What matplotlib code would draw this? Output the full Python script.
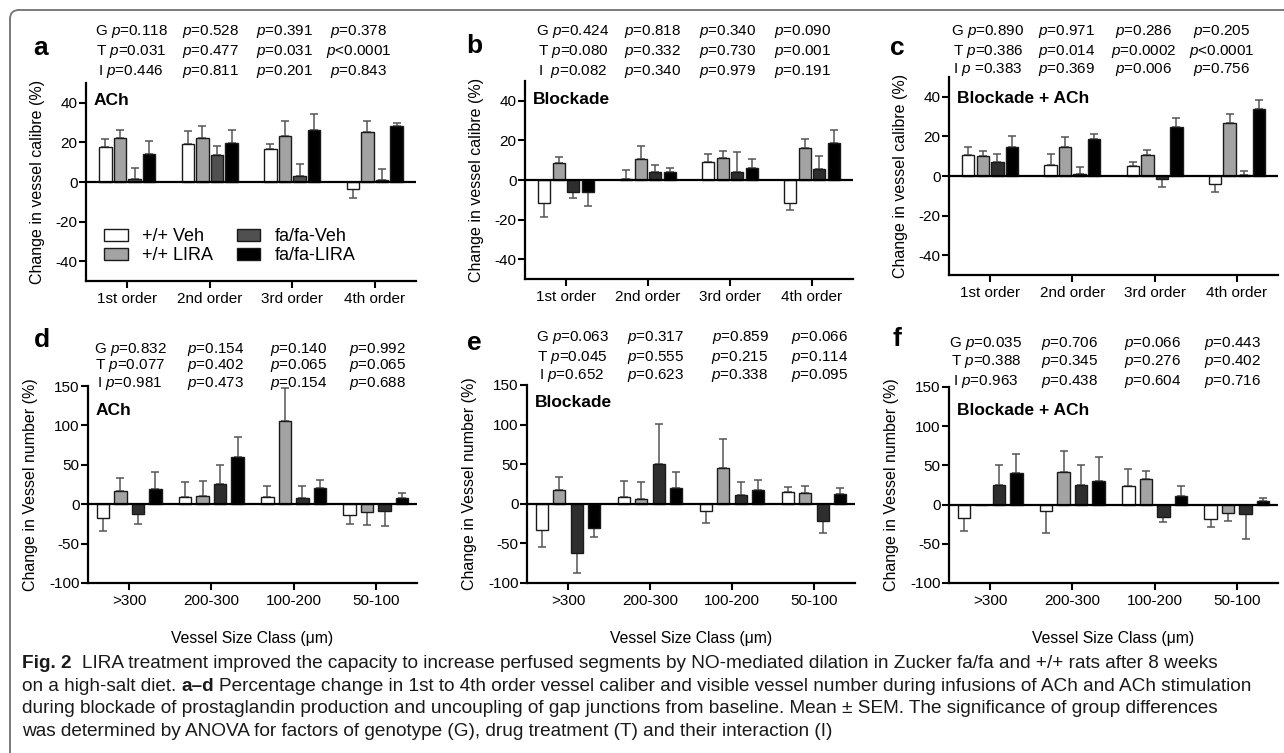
import matplotlib
matplotlib.use('Agg')
import matplotlib.pyplot as plt
import numpy as np
from matplotlib import font_manager
from matplotlib.patches import FancyBboxPatch, Patch
from matplotlib.transforms import IdentityTransform

W, H = 1284, 753
plt.rcParams['font.family'] = ['Liberation Sans', 'DejaVu Sans']
plt.rcParams['mathtext.fontset'] = 'custom'
plt.rcParams['mathtext.it'] = 'Liberation Sans:italic'
plt.rcParams['mathtext.rm'] = 'Liberation Sans'
plt.rcParams['axes.unicode_minus'] = False

# ---------------- data ----------------
series_labels = ['+/+ Veh', '+/+ LIRA', 'fa/fa-Veh', 'fa/fa-LIRA']
order_labels = ['1st order', '2nd order', '3rd order', '4th order']
size_labels = ['>300', '200-300', '100-200', '50-100']

# rows: +/+ Veh, +/+ LIRA, fa/fa-Veh, fa/fa-LIRA ; columns: groups
a_mean = [[17.6, 19.2, 16.8, -3.7], [22.2, 22.2, 23.4, 25.3],
          [1.4, 13.6, 3.1, 1.0], [14.1, 19.7, 26.4, 28.1]]
a_sem = [[4.3, 6.4, 2.4, 4.6], [3.9, 6.1, 7.4, 5.5],
         [5.9, 4.4, 6.1, 5.6], [6.4, 6.7, 7.8, 1.7]]

b_mean = [[-11.8, 0.5, 9.3, -11.5], [8.8, 10.5, 11.3, 16.2],
          [-6.2, 4.1, 4.2, 5.4], [-6.2, 4.2, 5.9, 18.6]]
b_sem = [[7.1, 4.6, 3.7, 3.7], [3.0, 6.9, 3.4, 4.7],
         [3.1, 3.7, 10.1, 6.8], [7.0, 2.0, 4.9, 6.9]]

c_mean = [[10.4, 5.8, 5.3, -4.1], [10.2, 14.5, 10.7, 26.7],
          [7.1, 1.2, -1.4, 0.7], [14.6, 18.7, 24.5, 33.9]]
c_sem = [[4.4, 5.3, 1.8, 3.9], [2.4, 5.4, 2.2, 4.8],
         [3.8, 3.1, 4.2, 1.9], [5.5, 2.7, 4.6, 4.4]]

d_mean = [[-17.0, 8.9, 9.3, -13.6], [17.0, 11.0, 105.0, -10.2],
          [-12.3, 25.4, 7.6, -8.9], [19.9, 60.2, 20.8, 8.1]]
d_sem = [[16.5, 19.5, 14.4, 11.0], [16.5, 18.7, 43.0, 16.1],
         [13.1, 24.6, 14.9, 18.2], [20.4, 24.5, 9.3, 5.5]]

e_mean = [[-33.5, 8.9, -9.3, 14.4], [17.0, 5.5, 45.8, 13.1],
          [-62.7, 50.0, 10.6, -21.6], [-30.1, 20.3, 17.8, 11.9]]
e_sem = [[21.2, 19.5, 15.3, 7.2], [16.5, 21.6, 36.0, 9.4],
         [24.2, 50.4, 16.5, 15.7], [12.3, 20.0, 12.3, 7.6]]

f_mean = [[-17.0, -8.5, 23.7, -18.2], [0.0, 41.5, 33.0, -11.0],
          [25.4, 25.4, -15.3, -12.3], [39.8, 29.7, 10.6, 5.1]]
f_sem = [[16.5, 27.1, 21.6, 9.8], [0.0, 27.5, 10.2, 10.2],
         [24.6, 24.6, 6.7, 32.2], [24.6, 30.5, 13.6, 3.0]]

a_p = [['G $p$=0.118', '$p$=0.528', '$p$=0.391', '$p$=0.378'],
       ['T $p$=0.031', '$p$=0.477', '$p$=0.031', '$p$<0.0001'],
       ['I $p$=0.446', '$p$=0.811', '$p$=0.201', '$p$=0.843']]
b_p = [['G $p$=0.424', '$p$=0.818', '$p$=0.340', '$p$=0.090'],
       ['T $p$=0.080', '$p$=0.332', '$p$=0.730', '$p$=0.001'],
       ['I  $p$=0.082', '$p$=0.340', '$p$=0.979', '$p$=0.191']]
c_p = [['G $p$=0.890', '$p$=0.971', '$p$=0.286', '$p$=0.205'],
       ['T $p$=0.386', '$p$=0.014', '$p$=0.0002', '$p$<0.0001'],
       ['I $p$ =0.383', '$p$=0.369', '$p$=0.006', '$p$=0.756']]
d_p = [['G $p$=0.832', '$p$=0.154', '$p$=0.140', '$p$=0.992'],
       ['T $p$=0.077', '$p$=0.402', '$p$=0.065', '$p$=0.065'],
       ['I $p$=0.981', '$p$=0.473', '$p$=0.154', '$p$=0.688']]
e_p = [['G $p$=0.063', '$p$=0.317', '$p$=0.859', '$p$=0.066'],
       ['T $p$=0.045', '$p$=0.555', '$p$=0.215', '$p$=0.114'],
       ['I $p$=0.652', '$p$=0.623', '$p$=0.338', '$p$=0.095']]
f_p = [['G $p$=0.035', '$p$=0.706', '$p$=0.066', '$p$=0.443'],
       ['T $p$=0.388', '$p$=0.345', '$p$=0.276', '$p$=0.402'],
       ['I $p$=0.963', '$p$=0.438', '$p$=0.604', '$p$=0.716']]

caption_lines = [
    [("Fig. 2", True, 2),
     ("LIRA treatment improved the capacity to increase perfused segments by NO-mediated dilation in Zucker fa/fa and +/+ rats after 8 weeks", False, 0)],
    [("on a high-salt diet.", False, 1), ("a\u2013d", True, 1),
     ("Percentage change in 1st to 4th order vessel caliber and visible vessel number during infusions of ACh and ACh stimulation", False, 0)],
    [("during blockade of prostaglandin production and uncoupling of gap junctions from baseline. Mean \u00b1 SEM. The significance of group differences", False, 0)],
    [("was determined by ANOVA for factors of genotype (G), drug treatment (T) and their interaction (I)", False, 0)],
]

# ---------------- figure ----------------
fig = plt.figure(figsize=(W / 100, H / 100), dpi=100)
fig.patch.set_facecolor('white')


def fx(x):
    return x / W


def fy(y):
    return 1 - y / H


# rounded frame (top edge at y=10 px, left edge at x=10 px)
box = FancyBboxPatch((10, -20), 1300, H - 10 + 20, boxstyle='round,pad=0,rounding_size=9',
                     transform=IdentityTransform(), fill=False, edgecolor='#7a7a7a', linewidth=1.4)
fig.add_artist(box)

panels = [
    ('a', a_mean, a_sem, a_p, (86, 83, 416, 281), (-50, 50), [-40, -20, 0, 20, 40],
     'Change in vessel calibre (%)', order_labels, 0.177, 'ACh', 0.914, '#505050',
     [45, 125, 199, 273], [32, 52, 72], (41, 48)),
    ('b', b_mean, b_sem, b_p, (525, 81, 853, 279), (-50, 50), [-40, -20, 0, 20, 40],
     'Change in vessel calibre (%)', order_labels, 0.177, 'Blockade', 0.905, '#2e2e2e',
     [48, 128, 203, 278], [32, 52, 71], (474, 46)),
    ('c', c_mean, c_sem, c_p, (949, 77, 1278, 275), (-50, 50), [-40, -20, 0, 20, 40],
     'Change in vessel calibre (%)', order_labels, 0.177, 'Blockade + ACh', 0.89, '#2e2e2e',
     [39, 118, 195, 273], [32, 51, 70], (897, 48)),
    ('d', d_mean, d_sem, d_p, (88, 386, 417, 583), (-100, 150), [-100, -50, 0, 50, 100, 150],
     'Change in Vessel number (%)', size_labels, 0.213, 'ACh', 0.878, '#2e2e2e',
     [42, 128, 211, 290], [349, 366, 383], (42, 340)),
    ('e', e_mean, e_sem, e_p, (527, 385, 855, 583), (-100, 150), [-100, -50, 0, 50, 100, 150],
     'Change in Vessel number (%)', size_labels, 0.213, 'Blockade', 0.914, '#2e2e2e',
     [45, 129, 213, 293], [337, 357, 375], (474, 343)),
    ('f', f_mean, f_sem, f_p, (949, 387, 1278, 583), (-100, 150), [-100, -50, 0, 50, 100, 150],
     'Change in Vessel number (%)', size_labels, 0.213, 'Blockade + ACh', 0.878, '#2e2e2e',
     [37, 121, 204, 284], [343, 362, 382], (897, 339)),
]

width = 0.15
for (letter, means, sems, pv, (x0, y0, x1, y1), ylim, yticks, ylabel, xlabels, step,
     title, title_y, dark, pcols, prows, lxy) in panels:
    ax = fig.add_axes([fx(x0), fy(y1), (x1 - x0) / W, (y1 - y0) / H])
    colors = ['#ffffff', '#a3a3a3', dark, '#000000']
    x = np.arange(len(xlabels))
    handles = []
    for i in range(4):
        m = np.array(means[i], dtype=float)
        s = np.array(sems[i], dtype=float)
        xs = x + (i - 1.5) * step
        ax.bar(xs, m, width, color=colors[i], edgecolor='#1a1a1a', linewidth=1.0, zorder=3)
        handles.append(Patch(facecolor=colors[i], edgecolor='#1a1a1a', linewidth=1.0, label=series_labels[i]))
        mask = s > 0
        lower = np.where(m < 0, s, 0)
        upper = np.where(m >= 0, s, 0)
        ax.errorbar(xs[mask], m[mask], yerr=[lower[mask], upper[mask]], fmt='none',
                    ecolor='#555555', elinewidth=1.1, capsize=3, capthick=1.1, zorder=2)
    ax.axhline(0, color='black', linewidth=1.6, zorder=4)
    ax.set_xlim(-0.5, 3.5)
    ax.set_ylim(*ylim)
    ax.set_yticks(yticks)
    ax.set_xticks(x)
    ax.set_xticklabels(xlabels, fontsize=11)
    ax.tick_params(axis='y', labelsize=11, length=5, width=1.5, direction='out', pad=1)
    ax.tick_params(axis='x', length=5, width=1.5, direction='out', pad=3)
    for sp in ['top', 'right']:
        ax.spines[sp].set_visible(False)
    for sp in ['left', 'bottom']:
        ax.spines[sp].set_linewidth(1.6)
    ax.set_ylabel(ylabel, fontsize=11.5, labelpad=8)
    ax.text(7.5 / (x1 - x0), title_y, title, transform=ax.transAxes, fontsize=12.5,
            fontweight='bold', ha='left', va='center')
    for r, row in enumerate(pv):
        for cidx, txt in enumerate(row):
            fig.text(fx(x0 + pcols[cidx]), fy(prows[r]), txt, fontsize=11, ha='center', va='center')
    fig.text(fx(lxy[0]), fy(lxy[1]), letter, fontsize=19, fontweight='bold', ha='center', va='center')
    if letter == 'a':
        ax.legend(handles=handles, ncol=2, loc='lower left', bbox_to_anchor=(0.055, 0.085),
                  frameon=False, fontsize=13, handlelength=1.3, handleheight=0.65,
                  handletextpad=0.8, columnspacing=1.3, labelspacing=0.1,
                  borderaxespad=0, borderpad=0)
    if letter in ('d', 'e', 'f'):
        fig.text(fx((x0 + x1) / 2), fy(638), 'Vessel Size Class (\u03bcm)', fontsize=11.3,
                 ha='center', va='center')

# ---------------- caption ----------------
names = {f.name for f in font_manager.fontManager.ttflist}
cap_family = 'Liberation Sans Narrow' if 'Liberation Sans Narrow' in names else 'Liberation Sans'
renderer = fig.canvas.get_renderer()


def text_w(s, size, bold):
    t = fig.text(0, 0, s, fontsize=size, fontweight='bold' if bold else 'normal', family=cap_family)
    w = t.get_window_extent(renderer).width
    t.remove()
    return w


ref_line = ' '.join(r[0] for r in caption_lines[1])
base = text_w(ref_line, 10, False)
cap_size = 10 * 1243 / base
space_w = text_w('x x', cap_size, False) - text_w('xx', cap_size, False)
baselines = [668, 691, 713, 736]
for line, yb in zip(caption_lines, baselines):
    cur = 22
    for txt, bold, gap in line:
        t = fig.text(fx(cur), fy(yb), txt, fontsize=cap_size, fontweight='bold' if bold else 'normal',
                     family=cap_family, ha='left', va='baseline', color='#1a1a1a')
        cur += t.get_window_extent(renderer).width + gap * space_w

fig.savefig('out.png', dpi=100)
